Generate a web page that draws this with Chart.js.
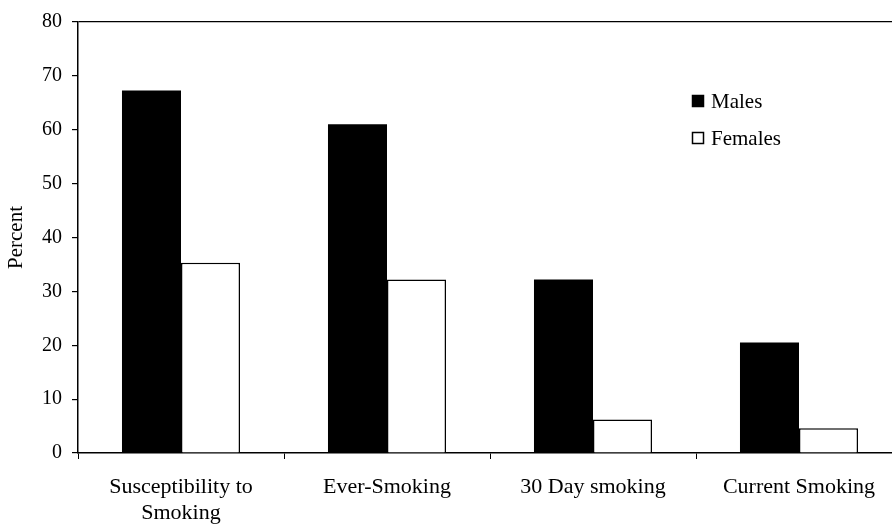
<!DOCTYPE html>
<html>
<head>
<meta charset="utf-8">
<script src="https://cdn.jsdelivr.net/npm/chart.js@4/dist/chart.umd.min.js"></script>
<style>
html,body{margin:0;padding:0;background:#fff;overflow:hidden;width:892px;height:528px;}
canvas{display:block;}
</style>
</head>
<body>
<canvas id="c" width="904" height="528"></canvas>
<script>
const categories = [["Susceptibility to","Smoking"], "Ever-Smoking", "30 Day smoking", "Current Smoking"];
const males = [67.3, 61.0, 32.2, 20.5];
const females = [35.3, 32.2, 6.2, 4.6];
const yTicks = [0, 10, 20, 30, 40, 50, 60, 70, 80];
const seriesNames = ["Males", "Females"];

const FONT = "'Liberation Serif', 'Times New Roman', serif";

const legendPlugin = {
  id: 'customLegend',
  afterDraw(chart) {
    const ctx = chart.ctx;
    const x0 = 692, ys = [101, 138];
    ctx.save();
    chart.data.datasets.forEach((ds, i) => {
      const y = ys[i];
      ctx.fillStyle = ds.backgroundColor;
      ctx.fillRect(x0, y - 6, 12, 12);
      ctx.strokeStyle = '#000';
      ctx.lineWidth = 1.5;
      ctx.strokeRect(x0 + 0.5, y - 5.5, 11, 11);
      ctx.fillStyle = '#000';
      ctx.font = "21px " + FONT;
      ctx.textBaseline = 'middle';
      ctx.textAlign = 'left';
      ctx.fillText(ds.label, x0 + 19, y + 1);
    });
    ctx.restore();
  }
};

new Chart(document.getElementById('c'), {
  type: 'bar',
  data: {
    labels: categories,
    datasets: [
      { label: seriesNames[0], data: males, backgroundColor: '#000', borderColor: '#000', borderWidth: 0 },
      { label: seriesNames[1], data: females, backgroundColor: '#fff', borderColor: '#000', borderWidth: 1.5, borderSkipped: 'bottom' }
    ]
  },
  options: {
    responsive: false,
    animation: false,
    devicePixelRatio: 1,
    layout: { padding: { top: 16, right: 2, left: 0, bottom: 0 } },
    datasets: { bar: { categoryPercentage: 0.573, barPercentage: 1.0 } },
    plugins: { legend: { display: false }, tooltip: { enabled: false } },
    scales: {
      x: {
        offset: true,
        border: { display: true, color: '#000', width: 1.5 },
        grid: { display: true, drawOnChartArea: false, drawTicks: true, tickLength: 6, color: '#000', offset: true },
        ticks: { color: '#000', font: { family: FONT, size: 22 }, padding: 15, maxRotation: 0, autoSkip: false },
        afterFit(scale) { scale.height = 75; }
      },
      y: {
        min: 0, max: 80,
        border: { display: true, color: '#000', width: 1.5 },
        grid: {
          drawOnChartArea: true, drawTicks: true, tickLength: 6,
          color: (c) => (c.tick && c.tick.value === 80) ? '#000' : 'rgba(0,0,0,0)',
          tickColor: '#000', lineWidth: 1.2
        },
        afterBuildTicks(scale) { scale.ticks = yTicks.map(v => ({ value: v })); },
        ticks: { color: '#000', font: { family: FONT, size: 20 }, padding: 10 },
        title: { display: true, text: 'Percent', color: '#000', font: { family: FONT, size: 21 }, padding: { top: 4, bottom: 4 } },
        afterFit(scale) { scale.width = 78; }
      }
    }
  },
  plugins: [legendPlugin]
});
</script>
</body>
</html>
